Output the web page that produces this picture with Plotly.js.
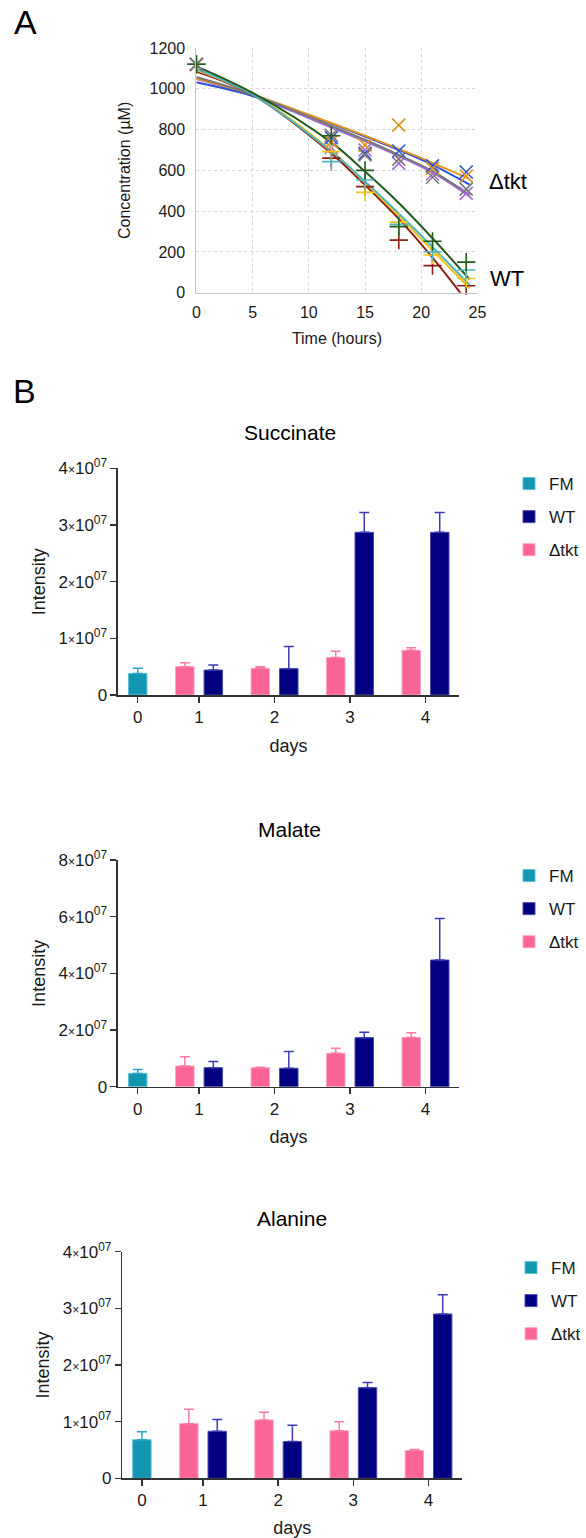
<!DOCTYPE html>
<html>
<head>
<meta charset="utf-8">
<script src="https://cdn.plot.ly/plotly-3.0.1.min.js"></script>
<style>
html,body{margin:0;padding:0;background:#fff;}
#chart{width:586px;height:1538px;}
</style>
</head>
<body>
<div id="chart"></div>
<script>
// ---------------- Panel A data (Concentration, µM) ----------------
const timePoints = [0, 12, 15, 18, 21, 24];
const fitTimes = [0, 5, 12, 15, 18, 21, 24.3];

// WT replicates ("+" markers)
const wtGreen  = [1120, 770, 600, 324, 252, 150];
const wtTeal   = [1120, 643, 553, 335, 201, 111];
const wtYellow = [1120, 692, 492, 346, 185, 70];
const wtRed    = [1120, 660, 520, 258, 133, 34];
const wtGreenFit  = [1110, 980, 737, 594, 440, 267, 65];
const wtTealFit   = [1097, 972, 692, 545, 388, 224, 38];
const wtYellowFit = [1092, 973, 697, 540, 377, 207, 22];
const wtRedFit    = [1085, 970, 683, 528, 362, 172, -60];

// Δtkt replicates ("x" markers)
const tktOrange = [1120, 740, 724, 822, 610, 572];
const tktBlue   = [1120, 760, 683, 695, 622, 592];
const tktGray   = [1120, 772, 676, 655, 566, 508];
const tktPurple = [1120, 712, 700, 634, 582, 487];
const tktOrangeFit = [1050, 972, 832, 770, 705, 637, 558];
const tktBlueFit   = [1032, 965, 828, 766, 700, 627, 530];
const tktGrayFit   = [1058, 972, 818, 750, 676, 596, 480];
const tktPurpleFit = [1048, 966, 810, 742, 670, 590, 472];

// ---------------- Panel B data (Intensity) ----------------
const days = [0, 1, 2, 3, 4];
const fmDays = [0];
const strainDays = [1, 2, 3, 4];

const succFM = [3.8e6];          const succFMErr = [0.9e6];
const succTkt = [5.0e6, 4.7e6, 6.6e6, 7.9e6];
const succTktErr = [0.7e6, 0.3e6, 1.1e6, 0.45e6];
const succWT = [4.4e6, 4.65e6, 28.7e6, 28.7e6];
const succWTErr = [0.9e6, 3.9e6, 3.5e6, 3.5e6];

const malFM = [4.7e6];           const malFMErr = [1.4e6];
const malTkt = [7.3e6, 6.7e6, 11.8e6, 17.4e6];
const malTktErr = [3.3e6, 0.2e6, 1.8e6, 1.6e6];
const malWT = [6.7e6, 6.5e6, 17.3e6, 44.7e6];
const malWTErr = [2.2e6, 5.9e6, 1.9e6, 14.7e6];

const alaFM = [6.8e6];           const alaFMErr = [1.4e6];
const alaTkt = [9.65e6, 10.3e6, 8.4e6, 4.9e6];
const alaTktErr = [2.55e6, 1.35e6, 1.6e6, 0.2e6];
const alaWT = [8.3e6, 6.5e6, 16.0e6, 29.0e6];
const alaWTErr = [2.1e6, 2.85e6, 0.9e6, 3.4e6];

const succTicks = [0, 1e7, 2e7, 3e7, 4e7];
const malTicks  = [0, 2e7, 4e7, 6e7, 8e7];
const alaTicks  = [0, 1e7, 2e7, 3e7, 4e7];

// ---------------- styling / layout helpers ----------------
const W = 586, H = 1538;
const px = v => v / W;
const py = v => 1 - v / H;
const FONT = 'Liberation Sans, Arial, Helvetica, sans-serif';
const TXT = '#1a1a1a';

const C = {
  green: '#245a1d', teal: '#4db4c4', yellow: '#f3c512', red: '#8e1d14',
  orange: '#e3931a', blue: '#2b52d6', gray: '#787878', purple: '#a46bd5',
  fm: '#1396b2', wt: '#000080', tkt: '#fa6496'
};

const traces = [];

const reps = [
  {name: 'Δtkt 4', pts: tktPurple, fit: tktPurpleFit, color: C.purple, symbol: 'x-thin'},
  {name: 'Δtkt 2', pts: tktBlue, fit: tktBlueFit, color: C.blue, symbol: 'x-thin'},
  {name: 'Δtkt 1', pts: tktOrange, fit: tktOrangeFit, color: C.orange, symbol: 'x-thin'},
  {name: 'Δtkt 3', pts: tktGray, fit: tktGrayFit, color: C.gray, symbol: 'x-thin'},
  {name: 'WT 4', pts: wtRed, fit: wtRedFit, color: C.red, symbol: 'cross-thin'},
  {name: 'WT 3', pts: wtYellow, fit: wtYellowFit, color: C.yellow, symbol: 'cross-thin'},
  {name: 'WT 2', pts: wtTeal, fit: wtTealFit, color: C.teal, symbol: 'cross-thin'},
  {name: 'WT 1', pts: wtGreen, fit: wtGreenFit, color: C.green, symbol: 'cross-thin'}
];
reps.forEach(r => traces.push({
  type: 'scatter', mode: 'lines', name: r.name + ' fit', x: fitTimes, y: r.fit,
  line: {color: r.color, width: 2, shape: 'spline', smoothing: 1},
  xaxis: 'x', yaxis: 'y', showlegend: false, hoverinfo: 'skip'
}));
reps.forEach(r => traces.push({
  type: 'scatter', mode: 'markers', name: r.name, x: timePoints, y: r.pts,
  marker: {symbol: r.symbol, size: 13, color: r.color, line: {color: r.color, width: 1.6}},
  xaxis: 'x', yaxis: 'y', showlegend: false, cliponaxis: false
}));

// Bar geometry (style constants, in category units)
const barW = 0.245;
const day0Shift = 0.188;
const tktOffset = -0.31;
const wtOffset = 0.0675;

function addBars(ax, legendId, fm, fmErr, tkt, tktErr, wt, wtErr) {
  const eb = (arr, col) => ({type: 'data', symmetric: false, array: arr,
    arrayminus: arr.map(() => 0), color: col, thickness: 1.5, width: 5});
  traces.push({
    type: 'bar', name: 'FM', x: fmDays, y: fm, width: barW, offset: day0Shift - barW / 2,
    marker: {color: C.fm, line: {color: '#5fc0d4', width: 1}},
    error_y: eb(fmErr, '#2aa6c0'), xaxis: 'x' + ax, yaxis: 'y' + ax,
    legend: legendId, legendrank: 1, legendgroup: 'FM' + ax
  });
  traces.push({
    type: 'bar', name: 'Δtkt', x: strainDays, y: tkt, width: barW, offset: tktOffset,
    marker: {color: C.tkt, line: {color: '#ffa3c1', width: 1}},
    error_y: eb(tktErr, '#fb7aa5'), xaxis: 'x' + ax, yaxis: 'y' + ax,
    legend: legendId, legendrank: 3, legendgroup: 'TKT' + ax
  });
  traces.push({
    type: 'bar', name: 'WT', x: strainDays, y: wt, width: barW, offset: wtOffset,
    marker: {color: C.wt, line: {color: '#4848b0', width: 1}},
    error_y: eb(wtErr, '#3b3bb8'), xaxis: 'x' + ax, yaxis: 'y' + ax,
    legend: legendId, legendrank: 2, legendgroup: 'WT' + ax
  });
}
addBars(2, 'legend', succFM, succFMErr, succTkt, succTktErr, succWT, succWTErr);
addBars(3, 'legend2', malFM, malFMErr, malTkt, malTktErr, malWT, malWTErr);
addBars(4, 'legend3', alaFM, alaFMErr, alaTkt, alaTktErr, alaWT, alaWTErr);

function sciLabel(v) {
  if (v === 0) return '0';
  return (v / 1e7) + '<span style="font-size:12px">×</span>10<sup>07</sup>';
}

const dayTickVals = days.map(d => d === 0 ? d + day0Shift : d);
const dayTickText = days.map(String);

function barX(left, right, anchor) {
  return {
    domain: [px(left), px(right)], anchor: anchor, range: [-0.073, 4.448],
    tickvals: dayTickVals, ticktext: dayTickText,
    ticks: 'outside', ticklen: 6, tickwidth: 1.5, tickcolor: '#333',
    showline: true, linecolor: '#333', linewidth: 1.5,
    showgrid: false, zeroline: false, ticklabelstandoff: 0,
    tickfont: {family: FONT, size: 17, color: TXT},
    title: {text: 'days', font: {family: FONT, size: 18, color: TXT}, standoff: 13}
  };
}
function barY(bottom, top, anchor, ticks) {
  return {
    domain: [py(bottom), py(top)], anchor: anchor, range: [0, ticks[ticks.length - 1]],
    tickvals: ticks, ticktext: ticks.map(sciLabel),
    ticks: 'outside', ticklen: 6, tickwidth: 1.5, tickcolor: '#333',
    showline: true, linecolor: '#333', linewidth: 1.5,
    showgrid: false, zeroline: false,
    tickfont: {family: FONT, size: 17, color: TXT},
    title: {text: 'Intensity', font: {family: FONT, size: 18, color: TXT}, standoff: 8}
  };
}
function legendAt(x, y) {
  return {
    x: px(x), y: py(y), xanchor: 'left', yanchor: 'top',
    font: {family: FONT, size: 17, color: TXT}, bgcolor: 'rgba(0,0,0,0)',
    traceorder: 'grouped', tracegroupgap: 8, itemclick: false, itemdoubleclick: false
  };
}
function ann(text, x, y, size) {
  return {text: text, x: px(x), y: py(y), xref: 'paper', yref: 'paper',
    showarrow: false, xanchor: 'center', yanchor: 'middle',
    font: {family: FONT, size: size, color: '#000'}};
}

const layout = {
  width: W, height: H,
  margin: {l: 0, r: 0, t: 0, b: 0},
  paper_bgcolor: '#fff', plot_bgcolor: 'rgba(0,0,0,0)',
  font: {family: FONT, color: TXT},
  barmode: 'overlay',
  xaxis: {
    domain: [px(196.7), px(478.3)], anchor: 'y', range: [0, 25], tick0: 0, dtick: 5,
    showgrid: true, gridcolor: '#d6d6d6', griddash: 'dot', gridwidth: 1,
    showline: true, linecolor: '#c4c4c4', linewidth: 1, ticks: '', zeroline: false,
    ticklabelstandoff: 5, tickfont: {family: FONT, size: 16, color: TXT},
    title: {text: 'Time (hours)', font: {family: FONT, size: 16, color: TXT}, standoff: 12}
  },
  yaxis: {
    domain: [py(292.7), py(48)], anchor: 'x', range: [0, 1200], tick0: 0, dtick: 200,
    showgrid: true, gridcolor: '#d6d6d6', griddash: 'dot', gridwidth: 1,
    showline: true, linecolor: '#c4c4c4', linewidth: 1, ticks: '', zeroline: false,
    ticklabelstandoff: 7, tickfont: {family: FONT, size: 16, color: TXT},
    title: {text: 'Concentration (µM)', font: {family: FONT, size: 16, color: TXT}, standoff: 14}
  },
  xaxis2: barX(118.2, 460, 'y2'),
  yaxis2: barY(695, 468.3, 'x2', succTicks),
  xaxis3: barX(118.2, 460, 'y3'),
  yaxis3: barY(1086.7, 860, 'x3', malTicks),
  xaxis4: barX(122.5, 462.9, 'y4'),
  yaxis4: barY(1478.3, 1251.7, 'x4', alaTicks),
  legend: legendAt(509, 466),
  legend2: legendAt(509, 858),
  legend3: legendAt(512, 1250),
  annotations: [
    ann('A', 26, 22, 34),
    ann('B', 25, 391, 34),
    ann('Δtkt', 509, 182, 22),
    ann('WT', 508, 278, 22),
    ann('Succinate', 290, 433, 21),
    ann('Malate', 290, 829, 21),
    ann('Alanine', 292, 1218, 21)
  ]
};

Plotly.newPlot('chart', traces, layout, {displayModeBar: false, responsive: false, staticPlot: true});
</script>
</body>
</html>
